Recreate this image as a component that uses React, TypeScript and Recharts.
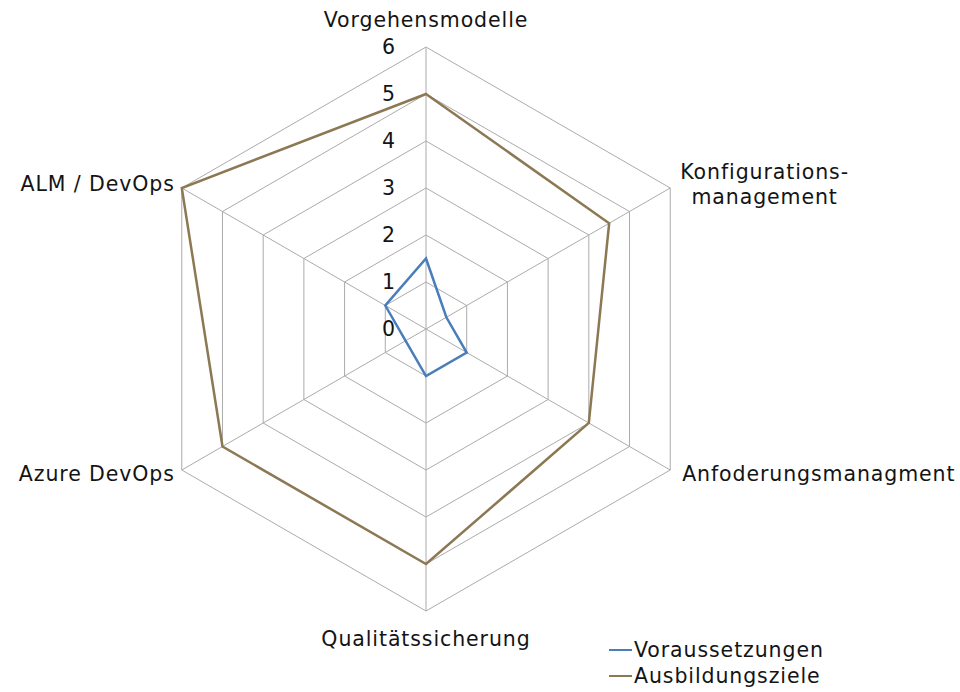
import { RadarChart, Radar, PolarGrid, PolarAngleAxis, PolarRadiusAxis, Legend } from "recharts";

// axis categories, clockwise from the top
const categories = [
  "Vorgehensmodelle",
  "Konfigurations-\nmanagement",
  "Anfoderungsmanagment",
  "Qualitätssicherung",
  "Azure DevOps",
  "ALM / DevOps",
];
const voraussetzungen = [1.5, 0.5, 1, 1, 0.5, 1];
const ausbildungsziele = [5, 4.5, 4, 5, 5, 6];
const radiusTicks = [0, 1, 2, 3, 4, 5, 6];

const seriesNames = ["Voraussetzungen", "Ausbildungsziele"];
const seriesColors = ["#4a7ebb", "#8c7853"];

const data = categories.map((name, i) => ({
  name,
  Voraussetzungen: voraussetzungen[i],
  Ausbildungsziele: ausbildungsziele[i],
}));

const FONT = "'DejaVu Sans', sans-serif";
const TEXT = "#141414";
const FS = 20.5;
const LS = 0.9;

function AngleTick(props: any) {
  const { x, y, payload } = props;
  const lines = String(payload.value).split("\n");
  const rad = (payload.coordinate * Math.PI) / 180;
  const cos = Math.cos(rad);
  const sin = Math.sin(rad);
  const lh = 25;
  let anchor = "middle";
  let tx = x;
  let ty = y;
  if (sin > 0.99) {
    ty = y - 12;
  } else if (sin < -0.99) {
    ty = y + 27;
  } else {
    ty = y + 7 - ((lines.length - 1) * lh) / 2;
    if (cos > 0) {
      if (lines.length > 1) {
        const longest = Math.max(...lines.map((l) => l.length));
        tx = x + 5 + longest * 5.5;
      } else {
        anchor = "start";
        tx = x + 5;
      }
    } else {
      anchor = "end";
      tx = x;
    }
  }
  return (
    <text
      x={tx}
      y={ty}
      textAnchor={anchor}
      fill={TEXT}
      fontSize={FS}
      letterSpacing={LS}
      fontFamily={FONT}
    >
      {lines.map((l, i) => (
        <tspan key={i} x={tx} dy={i === 0 ? 0 : lh}>
          {l}
        </tspan>
      ))}
    </text>
  );
}

function RadiusTick(props: any) {
  const { x, y, payload } = props;
  return (
    <text x={x - 31} y={y} dy="0.36em" textAnchor="end" fill={TEXT} fontSize={FS} fontFamily={FONT}>
      {payload.value}
    </text>
  );
}

function LegendBox() {
  return (
    <div style={{ fontFamily: FONT, fontSize: FS, letterSpacing: LS, color: TEXT, lineHeight: "26px" }}>
      {seriesNames.map((n, i) => (
        <div key={n} style={{ display: "flex", alignItems: "center" }}>
          <span style={{ display: "inline-block", width: 23, height: 2.5, background: seriesColors[i], marginRight: 2 }} />
          {n}
        </div>
      ))}
    </div>
  );
}

export default function App() {
  return (
    <div style={{ position: "absolute", left: 0, top: 0, width: 960, height: 692, background: "#fff" }}>
      <RadarChart
        width={960}
        height={692}
        data={data}
        cx={426}
        cy={329}
        outerRadius={282}
        margin={{ top: 0, right: 0, bottom: 0, left: 0 }}
      >
        <PolarGrid gridType="polygon" stroke="#ababab" strokeWidth={1} />
        <PolarAngleAxis dataKey="name" tick={<AngleTick />} tickLine={false} axisLine={false} />
        <PolarRadiusAxis
          angle={90}
          domain={[0, 6]}
          ticks={radiusTicks as any}
          tickCount={radiusTicks.length}
          axisLine={false}
          tickLine={false}
          tick={<RadiusTick />}
        />
        {seriesNames.map((n, i) => (
          <Radar
            key={n}
            dataKey={n}
            stroke={seriesColors[i]}
            strokeWidth={2.5}
            fill="none"
            fillOpacity={0}
            dot={false}
            isAnimationActive={false}
          />
        ))}
        <Legend
          content={<LegendBox />}
          wrapperStyle={{ left: 609, top: 637, width: "auto", height: "auto", bottom: "auto" }}
        />
      </RadarChart>
    </div>
  );
}
